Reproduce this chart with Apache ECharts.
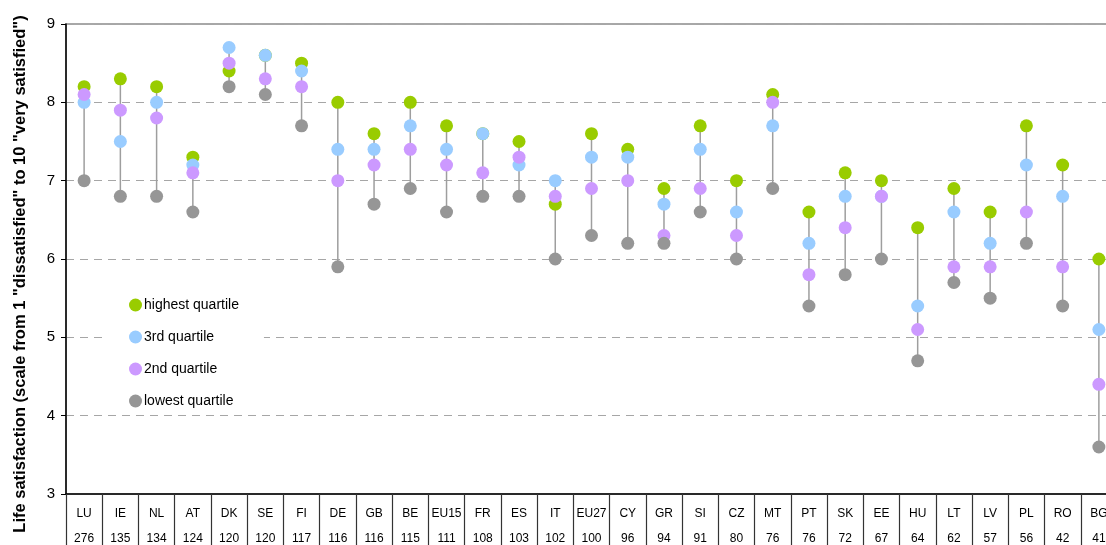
<!DOCTYPE html>
<html>
<head>
<meta charset="utf-8">
<script src="https://cdn.jsdelivr.net/npm/echarts@6/dist/echarts.min.js"></script>
<style>
html,body{margin:0;padding:0;background:#fff;}
#c{width:1106px;height:545px;}
</style>
</head>
<body>
<div id="c"></div>
<script>
const categories = ['LU','IE','NL','AT','DK','SE','FI','DE','GB','BE','EU15','FR','ES','IT','EU27','CY','GR','SI','CZ','MT','PT','SK','EE','HU','LT','LV','PL','RO','BG'];
const counts = ['276','135','134','124','120','120','117','116','116','115','111','108','103','102','100','96','94','91','80','76','76','72','67','64','62','57','56','42','41'];
const highest = [8.2,8.3,8.2,7.3,8.4,8.6,8.5,8.0,7.6,8.0,7.7,7.6,7.5,6.7,7.6,7.4,6.9,7.7,7.0,8.1,6.6,7.1,7.0,6.4,6.9,6.6,7.7,7.2,6.0];
const third   = [8.0,7.5,8.0,7.2,8.7,8.6,8.4,7.4,7.4,7.7,7.4,7.6,7.2,7.0,7.3,7.3,6.7,7.4,6.6,7.7,6.2,6.8,6.8,5.4,6.6,6.2,7.2,6.8,5.1];
const second  = [8.1,7.9,7.8,7.1,8.5,8.3,8.2,7.0,7.2,7.4,7.2,7.1,7.3,6.8,6.9,7.0,6.3,6.9,6.3,8.0,5.8,6.4,6.8,5.1,5.9,5.9,6.6,5.9,4.4];
const lowest  = [7.0,6.8,6.8,6.6,8.2,8.1,7.7,5.9,6.7,6.9,6.6,6.8,6.8,6.0,6.3,6.2,6.2,6.6,6.0,6.9,5.4,5.8,6.0,4.7,5.7,5.5,6.2,5.4,3.6];
const yTicks = [3,4,5,6,7,8,9];
const seriesNames = ['highest quartile','3rd quartile','2nd quartile','lowest quartile'];
const colors = ['#99cc00','#99ccff','#cc99ff','#969696'];

const allSeries = [highest, third, second, lowest];
const ranges = categories.map((c, i) => {
  const vals = allSeries.map(s => s[i]);
  return [i, Math.min(...vals), Math.max(...vals)];
});

const chart = echarts.init(document.getElementById('c'), null, {renderer: 'canvas'});
const FONT = 'Liberation Sans, Arial, sans-serif';
chart.setOption({
  animation: false,
  textStyle: {fontFamily: FONT},
  grid: {left: 66, width: 1051, top: 24, bottom: 51, outerBoundsMode: 'none', containLabel: false, show: true, borderColor: '#8c8c8c', borderWidth: 1.5, backgroundColor: 'transparent'},
  legend: {
    data: seriesNames,
    orient: 'vertical',
    left: 105, top: 292,
    padding: [6, 25, 6, 24],
    backgroundColor: '#fff',
    itemWidth: 13, itemHeight: 13, itemGap: 18,
    icon: 'circle',
    textStyle: {fontSize: 14, color: '#000', fontFamily: FONT, padding: [0,0,0,-3]}
  },
  xAxis: {
    type: 'category',
    data: categories,
    boundaryGap: true,
    axisLine: {lineStyle: {color: '#000', width: 1.5}},
    axisTick: {show: true, length: 60, lineStyle: {color: '#333', width: 1.2}},
    axisLabel: {
      interval: 0,
      margin: 7,
      formatter: (v, i) => '{a|' + v + '}\n{b|' + counts[i] + '}',
      rich: {
        a: {fontSize: 12, lineHeight: 25, color: '#000', fontFamily: FONT},
        b: {fontSize: 12, lineHeight: 25, color: '#000', fontFamily: FONT}
      }
    },
    splitLine: {show: false}
  },
  yAxis: {
    type: 'value',
    min: 3, max: 9, interval: 1,
    name: 'Life satisfaction (scale from 1 "dissatisfied" to 10 "very satisfied")',
    nameLocation: 'middle',
    nameGap: 37,
    nameTextStyle: {fontSize: 16.5, fontWeight: 'bold', color: '#000', fontFamily: FONT, padding: [0, 30, 0, 0]},
    axisLine: {show: true, lineStyle: {color: '#000', width: 1.5}},
    axisTick: {show: true, length: 5, lineStyle: {color: '#000', width: 1}},
    axisLabel: {fontSize: 15, color: '#000', margin: 11, fontFamily: FONT},
    splitLine: {show: true, lineStyle: {color: '#a6a6a6', type: [8, 6], width: 1}}
  },
  series: [
    {
      type: 'custom',
      name: 'range',
      z: 1,
      data: ranges,
      encode: {x: 0, y: [1, 2]},
      renderItem: (params, api) => {
        const p1 = api.coord([api.value(0), api.value(1)]);
        const p2 = api.coord([api.value(0), api.value(2)]);
        return {type: 'line', shape: {x1: p1[0], y1: p1[1], x2: p2[0], y2: p2[1]}, style: {stroke: '#9e9e9e', lineWidth: 1.5}};
      }
    }
  ].concat(allSeries.map((s, k) => ({
    type: 'scatter',
    name: seriesNames[k],
    data: s,
    symbol: 'circle',
    symbolSize: 13,
    z: 2 + k,
    itemStyle: {color: colors[k], opacity: 1}
  })))
});
</script>
</body>
</html>
